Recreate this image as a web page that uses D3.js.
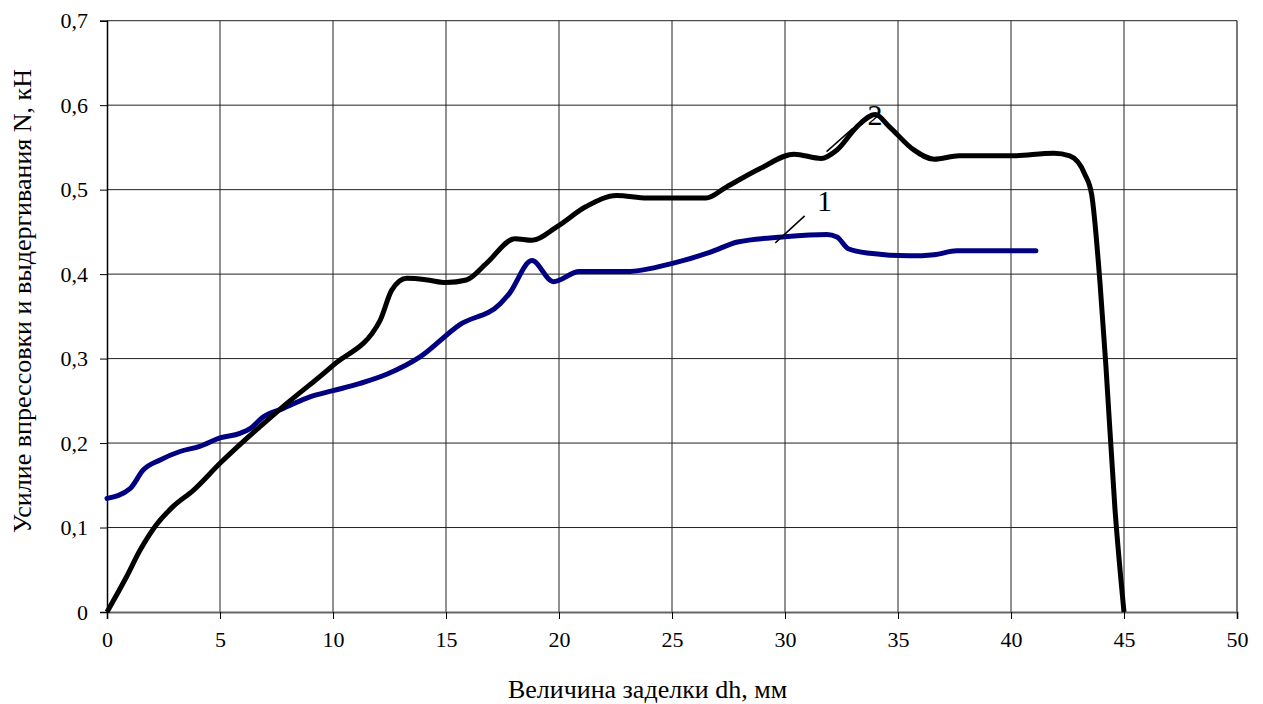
<!DOCTYPE html>
<html>
<head>
<meta charset="utf-8">
<script src="https://cdn.jsdelivr.net/npm/d3@7"></script>
<style>
  body { margin: 0; background: #fff; }
  svg text { font-family: "Liberation Serif", Tinos, "Times New Roman", serif; fill: #000; }
</style>
</head>
<body>
<div id="chart"></div>
<script>
// curve 1 (blue)
const dh1 = [0, 1.02, 1.6, 2.35, 3.23, 4.1, 5, 5.88, 6.33, 6.92, 7.8, 8.98, 10, 11.2, 12.4, 13.85, 15.6, 17.4, 17.8, 18.8, 19.75, 20.9, 23, 25.06, 26.7, 27.9, 29.9, 31.85, 32.3, 32.8, 33.76, 35.5, 36.6, 37.6, 40, 41.1];
const n1 = [0.1345, 0.146, 0.168, 0.18, 0.19, 0.196, 0.206, 0.2115, 0.217, 0.231, 0.241, 0.2548, 0.262, 0.2706, 0.2817, 0.302, 0.34, 0.365, 0.377, 0.416, 0.391, 0.403, 0.403, 0.413, 0.426, 0.438, 0.444, 0.447, 0.444, 0.43, 0.4246, 0.4216, 0.423, 0.4276, 0.4276, 0.4276];
// curve 2 (black)
const dh2 = [0, 0.87, 1.46, 2.12, 2.93, 3.82, 5, 7.65, 10, 12.08, 12.6, 13.26, 14.2, 15.0, 15.9, 16.8, 18.05, 18.8, 19.9, 21.2, 22.55, 23.9, 26.5, 27.4, 28.9, 30.4, 31.6, 32.3, 33.2, 34.0, 34.6, 35.7, 36.6, 37.7, 40, 41.9, 42.6, 43.27, 43.57, 43.94, 44.2, 44.6, 45];
const n2 = [0, 0.042, 0.073, 0.101, 0.125, 0.144, 0.176, 0.24, 0.292, 0.345, 0.381, 0.395, 0.393, 0.39, 0.393, 0.413, 0.442, 0.44, 0.456, 0.48, 0.493, 0.49, 0.49, 0.503, 0.525, 0.542, 0.537, 0.547, 0.575, 0.589, 0.575, 0.547, 0.536, 0.54, 0.54, 0.543, 0.54, 0.518, 0.494, 0.389, 0.291, 0.122, 0];

const xTicks = d3.range(0, 51, 5);
const yTicks = [0, 0.1, 0.2, 0.3, 0.4, 0.5, 0.6, 0.7];
const xTitle = "Величина заделки dh, мм";
const yTitle = "Усилие впрессовки и выдергивания N, кН";
// curve labels: [text, label x, label y, leader from x, y, to x, y]
const curveLabels = [
  ["1", 31.75, 0.487, 29.57, 0.437, 30.87, 0.469],
  ["2", 33.98, 0.589, 31.84, 0.545, 33.0, 0.5725]
];

const serif = '"Liberation Serif", Tinos, "Times New Roman", serif';
const width = 1263, height = 704;
const margin = { top: 20.7, right: 26, bottom: 92, left: 107 };

const svg = d3.select("#chart").append("svg")
  .attr("width", width)
  .attr("height", height)
  .attr("font-family", serif);

const x = d3.scaleLinear().domain([0, 50]).range([margin.left, width - margin.right]);
const y = d3.scaleLinear().domain([0, 0.7]).range([height - margin.bottom, margin.top]);

const fmt = d => d === 0 ? "0" : d3.format(".1f")(d).replace(".", ",");

// grid
svg.append("g").selectAll("line.v")
  .data(xTicks.slice(1))
  .join("line")
  .attr("x1", d => x(d)).attr("x2", d => x(d))
  .attr("y1", y(0)).attr("y2", y(0.7))
  .attr("stroke", d => d === 50 ? "#777" : "#222")
  .attr("stroke-width", d => d === 50 ? 2 : 1);

svg.append("g").selectAll("line.h")
  .data(yTicks.slice(1))
  .join("line")
  .attr("x1", x(0)).attr("x2", x(50))
  .attr("y1", d => y(d)).attr("y2", d => y(d))
  .attr("stroke", "#222")
  .attr("stroke-width", 1);

// axes
const xAxis = g => g.attr("transform", `translate(0,${y(0)})`)
  .call(d3.axisBottom(x).tickValues(xTicks).tickSize(7).tickPadding(12).tickFormat(d => d))
  .call(g => g.select(".domain").attr("stroke", "#666").attr("stroke-width", 2))
  .call(g => g.selectAll(".tick line").attr("stroke", "#000"))
  .attr("font-family", serif)
  .attr("font-size", "22px");

const yAxis = g => g.attr("transform", `translate(${x(0)},0)`)
  .call(d3.axisLeft(y).tickValues(yTicks).tickSize(7).tickPadding(12).tickFormat(fmt))
  .call(g => g.select(".domain").attr("stroke", "#000").attr("stroke-width", 1.5))
  .call(g => g.selectAll(".tick line").attr("stroke", "#000"))
  .attr("font-family", serif)
  .attr("font-size", "22px");

svg.append("g").call(xAxis);
svg.append("g").call(yAxis);
svg.selectAll(".tick text").attr("fill", "#000");

// curves
const line = d3.line()
  .x(d => x(d[0]))
  .y(d => y(d[1]))
  .curve(d3.curveMonotoneX);

svg.append("path")
  .datum(d3.zip(dh1, n1))
  .attr("d", line)
  .attr("fill", "none")
  .attr("stroke", "#000080")
  .attr("stroke-width", 5)
  .attr("stroke-linecap", "round")
  .attr("stroke-linejoin", "round");

svg.append("path")
  .datum(d3.zip(dh2, n2))
  .attr("d", line)
  .attr("fill", "none")
  .attr("stroke", "#000")
  .attr("stroke-width", 5)
  .attr("stroke-linejoin", "round");

// labels with leaders
const lab = svg.append("g").selectAll("g").data(curveLabels).join("g");
lab.append("line")
  .attr("x1", d => x(d[3])).attr("y1", d => y(d[4]))
  .attr("x2", d => x(d[5])).attr("y2", d => y(d[6]))
  .attr("stroke", "#000").attr("stroke-width", 1.5);
lab.append("text")
  .attr("x", d => x(d[1])).attr("y", d => y(d[2]))
  .attr("text-anchor", "middle")
  .attr("dominant-baseline", "central")
  .attr("font-size", "30px")
  .text(d => d[0]);

// titles
svg.append("text")
  .attr("x", 647.5)
  .attr("y", 698)
  .attr("text-anchor", "middle")
  .attr("font-size", "26px")
  .text(xTitle);

svg.append("text")
  .attr("transform", "translate(31,301) rotate(-90)")
  .attr("text-anchor", "middle")
  .attr("font-size", "26px")
  .text(yTitle);
</script>
</body>
</html>
